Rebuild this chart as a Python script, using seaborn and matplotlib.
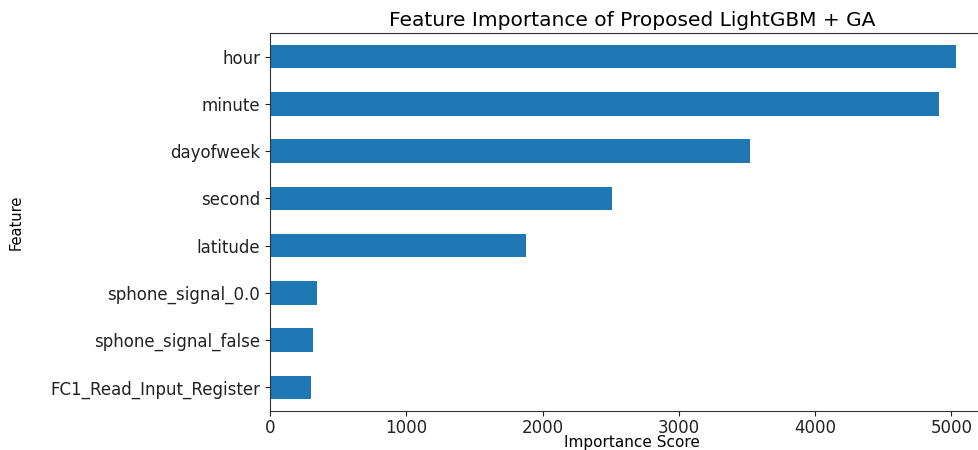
import matplotlib
matplotlib.use("Agg")
import matplotlib.pyplot as plt
import seaborn as sns
import pandas as pd

features = ["hour", "minute", "dayofweek", "second", "latitude",
            "sphone_signal_0.0", "sphone_signal_false", "FC1_Read_Input_Register"]
importance = [5035, 4910, 3520, 2510, 1875, 345, 318, 302]
xticks = [0, 1000, 2000, 3000, 4000, 5000]

df = pd.DataFrame({"Feature": features, "Importance Score": importance})

plt.rcParams["font.family"] = ["DejaVu Sans"]
fig = plt.figure(figsize=(9.79, 4.5), dpi=100)
ax = fig.add_axes([270 / 979, 39 / 450, 724 / 979, 378 / 450])

sns.barplot(data=df, y="Feature", x="Importance Score", orient="h",
            order=features, color="#1f77b4", saturation=1, width=0.5, ax=ax)

ax.set_xlim(0, 5313)
ax.set_ylim(7.5, -0.5)
ax.set_xticks(xticks)
ax.tick_params(axis="both", labelsize=12, colors="#222222", labelcolor="#222222")
ax.tick_params(axis="x", pad=2)
ax.set_title("Feature Importance of Proposed LightGBM + GA", fontsize=14.5, pad=5)
ax.set_xlabel("Importance Score", fontsize=11, labelpad=-1)
ax.set_ylabel("Feature", fontsize=10.5)
ax.yaxis.set_label_coords(-246 / 724, 0.5)
for s in ax.spines.values():
    s.set_color("#333333")

fig.savefig("out.png", dpi=100)
